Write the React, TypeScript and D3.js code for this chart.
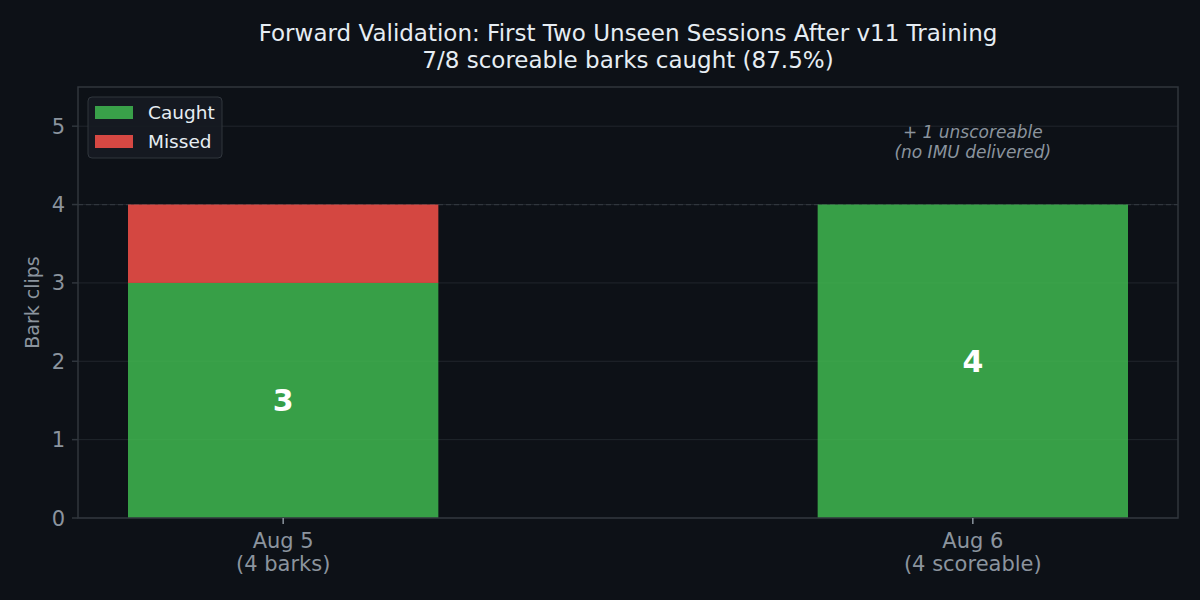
import * as d3 from 'd3'

const sessionDates = ['Aug 5', 'Aug 6']
const sessionNotes = ['(4 barks)', '(4 scoreable)']
const caught = [3, 4]
const missed = [1, 0]
const yTicks = [0, 1, 2, 3, 4, 5]
const titleLines = [
  'Forward Validation: First Two Unseen Sessions After v11 Training',
  '7/8 scoreable barks caught (87.5%)',
]
const noteLines = ['+ 1 unscoreable', '(no IMU delivered)']

const W = 1200
const H = 600
const margin = { top: 87, right: 22, bottom: 82, left: 78 }
const font = "'DejaVu Sans', sans-serif"

const bg = '#0d1117'
const spine = '#30363d'
const grid = '#21262d'
const muted = '#8b949e'
const text = '#e6edf3'
const green = '#3fb950'
const red = '#f85149'

export default function App() {
  const x = d3.scaleLinear().domain([-0.2975, 1.2975]).range([margin.left, W - margin.right])
  const y = d3.scaleLinear().domain([0, 5.5]).range([H - margin.bottom, margin.top])
  const barW = x(0.45) - x(0)
  const idx = d3.range(sessionDates.length)

  return (
    <div style={{ position: 'absolute', left: 0, top: 0 }}>
      <svg width={W} height={H} style={{ display: 'block', background: bg }} fontFamily={font}>
        <rect x={0} y={0} width={W} height={H} fill={bg} />

        {/* title */}
        {titleLines.map((t, i) => (
          <text key={i} x={(x.range()[0] + x.range()[1]) / 2} y={41 + i * 27} textAnchor="middle"
            fill={text} fontSize={23}>{t}</text>
        ))}

        {/* grid */}
        {yTicks.map(t => (
          <line key={t} x1={x.range()[0]} x2={x.range()[1]} y1={y(t)} y2={y(t)} stroke={grid} strokeWidth={1} />
        ))}
        <line x1={x.range()[0]} x2={x.range()[1]} y1={y(4)} y2={y(4)} stroke={spine} strokeWidth={1.2}
          strokeDasharray="5,3" />

        {/* bars */}
        {idx.map(i => (
          <g key={i}>
            <rect x={x(i) - barW / 2} width={barW} y={y(caught[i])} height={y(0) - y(caught[i])}
              fill={green} fillOpacity={0.85} />
            {missed[i] > 0 && (
              <rect x={x(i) - barW / 2} width={barW} y={y(caught[i] + missed[i])}
                height={y(caught[i]) - y(caught[i] + missed[i])} fill={red} fillOpacity={0.85} />
            )}
            <text x={x(i)} y={y(caught[i] / 2)} dy="0.36em" textAnchor="middle" fill="#ffffff"
              fontSize={30} fontWeight="bold">{caught[i]}</text>
          </g>
        ))}

        {/* annotation */}
        {noteLines.map((t, i) => (
          <text key={i} x={x(1)} y={y(4.8) + (i - 0.5) * 20} dy="0.35em" textAnchor="middle"
            fill={muted} fontSize={17} fontStyle="italic">{t}</text>
        ))}

        {/* spines */}
        <rect x={x.range()[0]} y={y.range()[1]} width={x.range()[1] - x.range()[0]}
          height={y.range()[0] - y.range()[1]} fill="none" stroke={spine} strokeWidth={1.5} />

        {/* y axis */}
        {yTicks.map(t => (
          <g key={t}>
            <line x1={x.range()[0] - 6} x2={x.range()[0]} y1={y(t)} y2={y(t)} stroke={spine} strokeWidth={1.5} />
            <text x={x.range()[0] - 13} y={y(t)} dy="0.36em" textAnchor="end" fill={muted} fontSize={21}>{t}</text>
          </g>
        ))}
        <text transform={`translate(32,${(y.range()[0] + y.range()[1]) / 2}) rotate(-90)`} textAnchor="middle"
          dy="0.35em" fill={muted} fontSize={19}>Bark clips</text>

        {/* x axis */}
        {idx.map(i => (
          <g key={i}>
            <line x1={x(i)} x2={x(i)} y1={y(0)} y2={y(0) + 6} stroke={muted} strokeWidth={1.5} />
            <text x={x(i)} y={548} textAnchor="middle" fill={muted} fontSize={21}>{sessionDates[i]}</text>
            <text x={x(i)} y={571} textAnchor="middle" fill={muted} fontSize={21}>{sessionNotes[i]}</text>
          </g>
        ))}

        {/* legend */}
        <g transform="translate(88,97)">
          <rect width={134} height={61} rx={4} fill="#161b22" fillOpacity={0.9} stroke={spine} strokeWidth={1} />
          {[['Caught', green], ['Missed', red]].map(([label, c], i) => (
            <g key={label} transform={`translate(7,${9 + i * 29})`}>
              <rect width={38} height={13} fill={c} fillOpacity={0.85} />
              <text x={53} y={6.5} dy="0.36em" fill={text} fontSize={18.5}>{label}</text>
            </g>
          ))}
        </g>
      </svg>
    </div>
  )
}
